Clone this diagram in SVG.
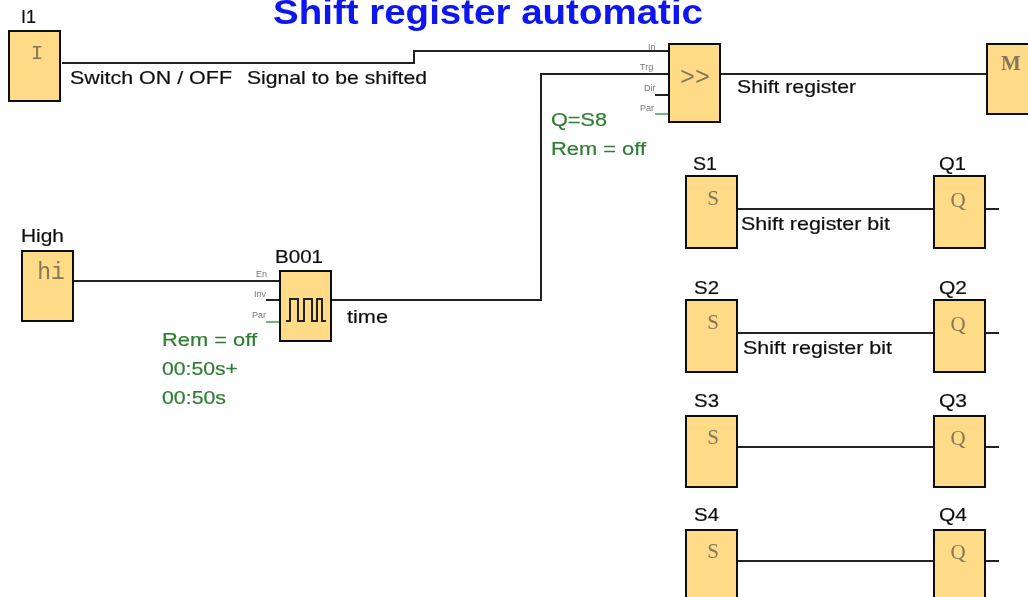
<svg xmlns="http://www.w3.org/2000/svg" width="1028" height="597" viewBox="0 0 1028 597">
<style>
text{font-family:"Liberation Sans",Arial,sans-serif;fill:#111;font-size:19px;stroke:#111;stroke-width:.2}
.b{fill:#ffdb88;stroke:#111;stroke-width:2}
.g{font-family:"Liberation Serif","Times New Roman",serif;fill:#85775a;stroke:none;font-size:21px;text-anchor:middle}
.m{font-family:"Liberation Mono","Courier New",monospace;font-size:21px}
.w{fill:none;stroke:#222;stroke-width:2}
.gr{fill:#2e7d32;stroke:#2e7d32}
.p{font-size:9px;fill:#777;stroke:none}
.gw{fill:none;stroke:#3da24a;stroke-width:1.5}
.t{font-size:35px;font-weight:700;fill:#0a14f0;stroke:none}
</style>
<defs><filter id="soft" filterUnits="userSpaceOnUse" x="0" y="0" width="1028" height="597"><feGaussianBlur stdDeviation="0.45"/></filter></defs>
<rect width="1028" height="597" fill="#fff"/>
<g filter="url(#soft)">
<text class="t" x="273" y="24" textLength="430" lengthAdjust="spacingAndGlyphs">Shift register automatic</text>
<g id="connectors">
<path class="w" d="M62 63H414V51H668"/>
<path class="w" d="M332 300H541V74H668"/>
<path class="w" d="M655 95H668"/>
<path class="gw" d="M655 114H668"/>
<path class="w" d="M720 74H987"/>
<path class="w" d="M74 281H280"/>
<path class="w" d="M266 300H280"/>
<path class="gw" d="M266 322H280"/>
<path class="w" d="M737 209H934M985 209H999"/>
<path class="w" d="M737 333H934M985 333H999"/>
<path class="w" d="M737 447H934M985 447H999"/>
<path class="w" d="M737 561H934M985 561H999"/>
</g>
<g id="I1"><rect class="b" x="9" y="31" width="51" height="70"/><text class="g m" x="37" y="59">I</text><text x="21" y="23" textLength="15" lengthAdjust="spacingAndGlyphs">I1</text></g>
<g id="High"><rect class="b" x="22" y="251" width="51" height="70"/><text class="g m" x="51" y="279" style="font-size:23px">hi</text><text x="21" y="242" textLength="43" lengthAdjust="spacingAndGlyphs">High</text></g>
<g id="B001"><rect class="b" x="280" y="271" width="51" height="70"/>
<path d="M286 321H290V299H298V321H304V299H312V321H317V299H322V321H326" fill="none" stroke="#222" stroke-width="2"/>
<text x="275" y="263" textLength="48" lengthAdjust="spacingAndGlyphs">B001</text></g>
<g id="SR"><rect class="b" x="669" y="44" width="51" height="78"/><text class="g m" x="695" y="85" style="font-size:26px" textLength="30" lengthAdjust="spacingAndGlyphs">&gt;&gt;</text></g>
<g id="M"><rect class="b" x="987" y="44" width="60" height="70"/><text class="g" x="1011" y="70" style="font-weight:700">M</text></g>
<g id="S1"><rect class="b" x="686" y="176" width="51" height="72"/><text class="g" x="713" y="205">S</text><text x="693" y="170" textLength="24" lengthAdjust="spacingAndGlyphs">S1</text></g>
<g id="Q1"><rect class="b" x="934" y="176" width="51" height="72"/><text class="g" x="958" y="207">Q</text><text x="939" y="170" textLength="27" lengthAdjust="spacingAndGlyphs">Q1</text></g>
<g id="S2"><rect class="b" x="686" y="300" width="51" height="72"/><text class="g" x="713" y="329">S</text><text x="694" y="294" textLength="25" lengthAdjust="spacingAndGlyphs">S2</text></g>
<g id="Q2"><rect class="b" x="934" y="300" width="51" height="72"/><text class="g" x="958" y="331">Q</text><text x="939" y="294" textLength="28" lengthAdjust="spacingAndGlyphs">Q2</text></g>
<g id="S3"><rect class="b" x="686" y="416" width="51" height="71"/><text class="g" x="713" y="444">S</text><text x="694" y="407" textLength="25" lengthAdjust="spacingAndGlyphs">S3</text></g>
<g id="Q3"><rect class="b" x="934" y="416" width="51" height="71"/><text class="g" x="958" y="445">Q</text><text x="939" y="407" textLength="28" lengthAdjust="spacingAndGlyphs">Q3</text></g>
<g id="S4"><rect class="b" x="686" y="530" width="51" height="72"/><text class="g" x="713" y="558">S</text><text x="694" y="521" textLength="25" lengthAdjust="spacingAndGlyphs">S4</text></g>
<g id="Q4"><rect class="b" x="934" y="530" width="51" height="72"/><text class="g" x="958" y="559">Q</text><text x="939" y="521" textLength="28" lengthAdjust="spacingAndGlyphs">Q4</text></g>
<text x="70" y="84" textLength="162" lengthAdjust="spacingAndGlyphs">Switch ON / OFF</text>
<text x="247" y="84" textLength="180" lengthAdjust="spacingAndGlyphs">Signal to be shifted</text>
<text x="737" y="93" textLength="119" lengthAdjust="spacingAndGlyphs">Shift register</text>
<text x="741" y="230" textLength="149" lengthAdjust="spacingAndGlyphs">Shift register bit</text>
<text x="743" y="354" textLength="149" lengthAdjust="spacingAndGlyphs">Shift register bit</text>
<text x="347" y="323" textLength="41" lengthAdjust="spacingAndGlyphs">time</text>
<text class="p" x="648" y="50">In</text>
<text class="p" x="640" y="70">Trg</text>
<text class="p" x="644" y="91">Dir</text>
<text class="p" x="640" y="111">Par</text>
<text class="p" x="256" y="277">En</text>
<text class="p" x="254" y="297">Inv</text>
<text class="p" x="252" y="318">Par</text>
<text class="gr" x="551" y="126" textLength="56" lengthAdjust="spacingAndGlyphs">Q=S8</text>
<text class="gr" x="551" y="155" textLength="95" lengthAdjust="spacingAndGlyphs">Rem = off</text>
<text class="gr" x="162" y="346" textLength="95" lengthAdjust="spacingAndGlyphs">Rem = off</text>
<text class="gr" x="162" y="375" textLength="76" lengthAdjust="spacingAndGlyphs">00:50s+</text>
<text class="gr" x="162" y="404" textLength="64" lengthAdjust="spacingAndGlyphs">00:50s</text>
</g>
</svg>
